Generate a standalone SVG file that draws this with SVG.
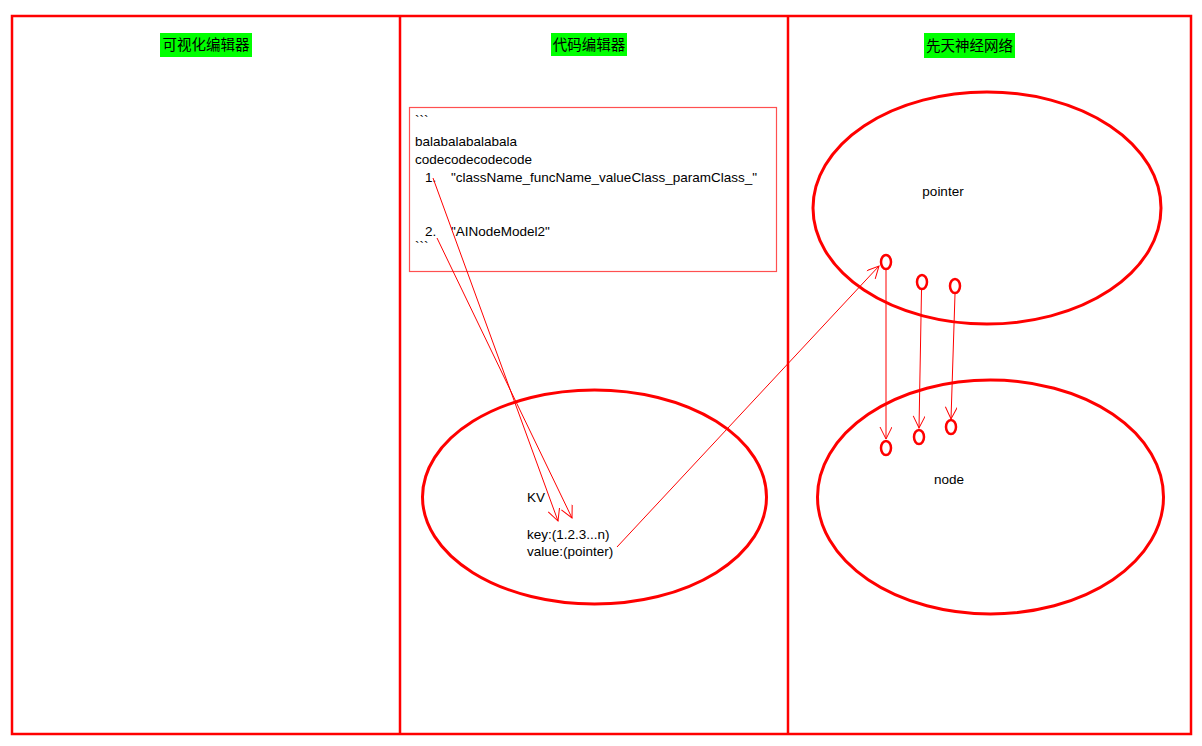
<svg xmlns="http://www.w3.org/2000/svg" width="1202" height="746" viewBox="0 0 1202 746">
<style>
.frame{fill:none;stroke:#ff0000;stroke-width:2.5}
.big{fill:none;stroke:#ff0000;stroke-width:3}
.dot{fill:none;stroke:#ff0000;stroke-width:2.5}
.box{fill:none;stroke:#ff5050;stroke-width:1.2}
.conn{fill:none;stroke:#ff0000;stroke-width:1;marker-end:url(#arr)}
.hd{font-family:"Noto Sans CJK SC","Noto Sans",sans-serif;font-size:14.5px;fill:#000;text-anchor:middle}
.t{font-family:"Liberation Sans","DejaVu Sans",sans-serif;font-size:13.5px;fill:#000}
.lab{fill:#00ff00}
</style>
<defs>
<marker id="arr" markerWidth="16" markerHeight="16" refX="13" refY="6" orient="auto" markerUnits="userSpaceOnUse">
<path d="M1,0 L13,6 L1,12" fill="none" stroke="#ff0000" stroke-width="1"/>
</marker>
</defs>
<rect width="1202" height="746" fill="#fff"/>
<g id="frame">
<rect class="frame" x="12" y="16" width="1179" height="718"/>
<line class="frame" x1="400" y1="16" x2="400" y2="734"/>
<line class="frame" x1="788" y1="16" x2="788" y2="734"/>
</g>
<g id="title-visual">
<rect class="lab" x="160" y="33" width="92" height="24"/>
<text class="hd" x="206" y="50">可视化编辑器</text>
</g>
<g id="title-code">
<rect class="lab" x="551" y="33" width="76" height="23"/>
<text class="hd" x="589" y="50">代码编辑器</text>
</g>
<g id="title-nn">
<rect class="lab" x="924" y="33" width="91" height="25"/>
<text class="hd" x="969.5" y="51">先天神经网络</text>
</g>
<g id="code-box">
<rect class="box" x="409.5" y="107.5" width="367" height="164"/>
<text class="t" x="415" y="125">```</text>
<text class="t" x="415" y="146">balabalabalabala</text>
<text class="t" x="415" y="164">codecodecodecode</text>
<text class="t" x="425" y="182">1.</text>
<text class="t" x="451" y="182">"className_funcName_valueClass_paramClass_"</text>
<text class="t" x="425" y="236">2.</text>
<text class="t" x="451" y="236">"AINodeModel2"</text>
<text class="t" x="415" y="251">```</text>
</g>
<g id="kv">
<ellipse class="big" cx="594.5" cy="497" rx="172" ry="107"/>
<text class="t" x="527" y="502">KV</text>
<text class="t" x="527" y="539">key:(1.2.3...n)</text>
<text class="t" x="527" y="556">value:(pointer)</text>
</g>
<g id="pointer">
<ellipse class="big" cx="987" cy="208" rx="174" ry="116"/>
<text class="t" x="943" y="196" text-anchor="middle">pointer</text>
<ellipse class="dot" cx="886" cy="262" rx="5" ry="7"/>
<ellipse class="dot" cx="922" cy="282" rx="5" ry="7"/>
<ellipse class="dot" cx="955" cy="286" rx="5" ry="7"/>
</g>
<g id="node">
<ellipse class="big" cx="990.5" cy="497" rx="173" ry="117"/>
<text class="t" x="949" y="484" text-anchor="middle">node</text>
<ellipse class="dot" cx="886" cy="448" rx="5" ry="7"/>
<ellipse class="dot" cx="919" cy="437" rx="5" ry="7"/>
<ellipse class="dot" cx="951" cy="427" rx="5" ry="7"/>
</g>
<g id="connectors">
<line class="conn" x1="433" y1="178" x2="558" y2="521"/>
<line class="conn" x1="437" y1="238" x2="572" y2="518"/>
<line class="conn" x1="617" y1="547" x2="879" y2="266"/>
<line class="conn" x1="886" y1="270" x2="886" y2="439"/>
<line class="conn" x1="921.5" y1="290" x2="919" y2="428"/>
<line class="conn" x1="955" y1="294" x2="951" y2="419"/>
</g>
</svg>
